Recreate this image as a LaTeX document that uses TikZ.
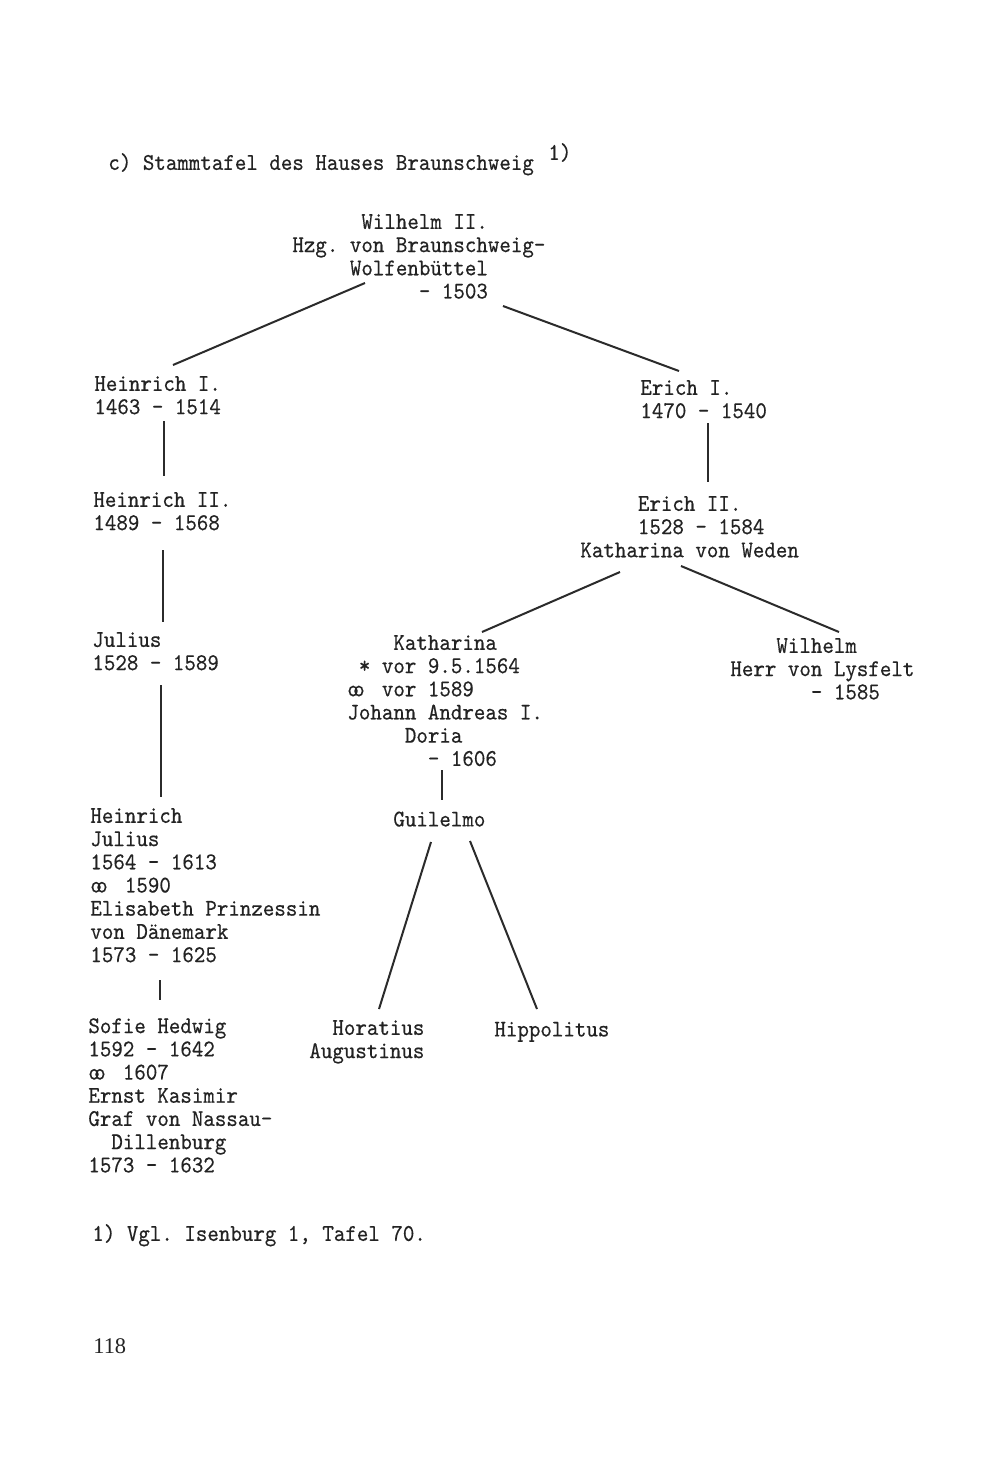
\documentclass[tikz,border=0pt]{standalone}
\usepackage{fontspec}
\newfontfamily\pagenofont{Liberation Serif}
\newfontfamily\typewriter{lmmono10-regular.otf}[FakeStretch=0.9127,FakeBold=0.35]
\newlength\cw
\setlength\cw{5.75pt}
\newcommand\ind[1]{\hspace*{#1\cw}}
\newcommand\marr{\makebox[2\cw][l]{o\kern-0.24em o}}
\definecolor{ink}{HTML}{232323}
\definecolor{rule}{HTML}{2B2B2B}
\tikzset{
  person/.style={anchor=north west, inner sep=0pt, align=left,
    font=\typewriter\fontsize{12}{11.6}\selectfont\frenchspacing, text=ink,
    execute at begin node=\strut},
  link/.style={draw=rule, line width=1pt},
}
\begin{document}
\begin{tikzpicture}[x=0.5pt,y=-0.5pt]
\fill[white] (0,0) rectangle (1000,1469);
\useasboundingbox (0,0) rectangle (1000,1469);

% title
\node[person] (title) at (108,152.8) {c) Stammtafel des Hauses Braunschweig};
\node[person] (fnmark) at (548,142.8) {1)};

% persons
\node[person] (wilhelm) at (292,213.8)
  {\ind{6}Wilhelm II.\\Hzg. von Braunschweig-\\\ind{5}Wolfenbüttel\\\ind{11}- 1503};
\node[person] (heinrichI) at (94,375.8) {Heinrich I.\\1463 - 1514};
\node[person] (heinrichII) at (93,491.8) {Heinrich II.\\1489 - 1568};
\node[person] (julius) at (92,631.8) {Julius\\1528 - 1589};
\node[person] (hjulius) at (90,807.8)
  {Heinrich\\Julius\\1564 - 1613\\\marr{} 1590\\Elisabeth Prinzessin\\von Dänemark\\1573 - 1625};
\node[person] (sofie) at (88,1017.8)
  {Sofie Hedwig\\1592 - 1642\\\marr{} 1607\\Ernst Kasimir\\Graf von Nassau-\\\ind{2}Dillenburg\\1573 - 1632};
\node[person] (erichI) at (640,379.8) {Erich I.\\1470 - 1540};
\node[person] (erichII) at (580,495.8)
  {\ind{5}Erich II.\\\ind{5}1528 - 1584\\Katharina von Weden};
\node[person] (katharina) at (347,634.8)
  {\ind{4}Katharina\\\ind{1}* vor 9.5.1564\\\marr{} vor 1589\\Johann Andreas I.\\\ind{5}Doria\\\ind{7}- 1606};
\node[person] (wilhelmL) at (730,637.8)
  {\ind{4}Wilhelm\\Herr von Lysfelt\\\ind{7}- 1585};
\node[person] (guilelmo) at (393,809.8) {Guilelmo};
\node[person] (horatius) at (309,1019.8) {\ind{2}Horatius\\Augustinus};
\node[person] (hippolitus) at (494,1019.8) {Hippolitus};

% footnote and page number
\node[person] (footnote) at (92,1223.8) {1) Vgl. Isenburg 1, Tafel 70.};
\node[anchor=base west, inner sep=0pt, font=\pagenofont\fontsize{11.2}{13}\selectfont, text=ink]
  (pageno) at (93,1353) {118};

% connector end points
\coordinate (w-l) at (365,283);   \coordinate (h1-t) at (173,365);
\coordinate (w-r) at (503,306);   \coordinate (e1-t) at (679,371);
\coordinate (h1-b) at (164,421);  \coordinate (h2-t) at (164,476);
\coordinate (h2-b) at (163,550);  \coordinate (j-t) at (163,622);
\coordinate (j-b) at (161,685);   \coordinate (hj-t) at (161,797);
\coordinate (hj-b) at (160,980);  \coordinate (s-t) at (160,1000);
\coordinate (e1-b) at (708,423);  \coordinate (e2-t) at (708,482);
\coordinate (e2-l) at (620,572);  \coordinate (k-t) at (482,632);
\coordinate (e2-r) at (681,566);  \coordinate (wl-t) at (839,632);
\coordinate (k-b) at (442,770);   \coordinate (g-t) at (442,800);
\coordinate (g-l) at (431,842);   \coordinate (ho-t) at (379,1009);
\coordinate (g-r) at (470,841);   \coordinate (hi-t) at (537,1009);

% connectors
\draw[link] (w-l) -- (h1-t);
\draw[link] (w-r) -- (e1-t);
\draw[link] (h1-b) -- (h2-t);
\draw[link] (h2-b) -- (j-t);
\draw[link] (j-b) -- (hj-t);
\draw[link] (hj-b) -- (s-t);
\draw[link] (e1-b) -- (e2-t);
\draw[link] (e2-l) -- (k-t);
\draw[link] (e2-r) -- (wl-t);
\draw[link] (k-b) -- (g-t);
\draw[link] (g-l) -- (ho-t);
\draw[link] (g-r) -- (hi-t);
\end{tikzpicture}
\end{document}
